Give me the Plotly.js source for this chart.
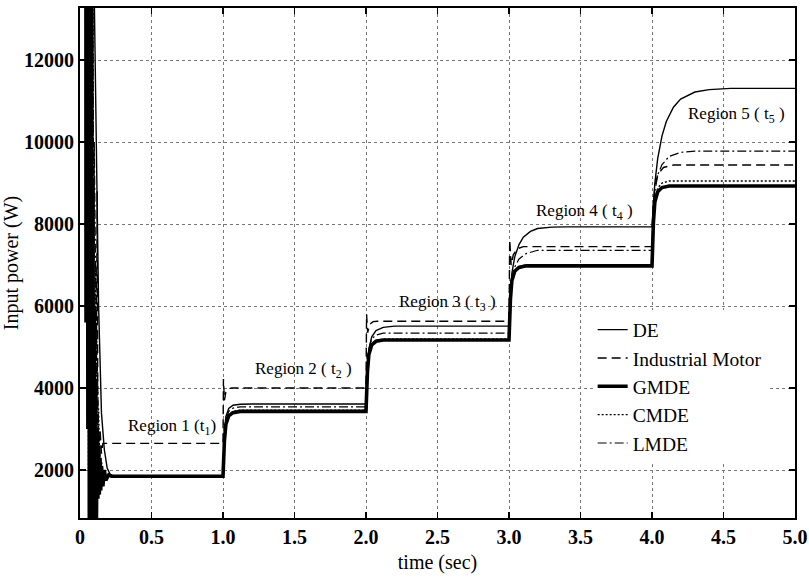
<!DOCTYPE html>
<html>
<head>
<meta charset="utf-8">
<script src="https://cdn.plot.ly/plotly-3.0.1.min.js"></script>
<style>html,body{margin:0;padding:0;background:#fff;}#chart{width:809px;height:580px;}</style>
</head>
<body>
<div id="chart"></div>
<script>
// ---- data (time in s, power in W) ----
const seriesNames = ["DE", "Industrial Motor", "GMDE", "CMDE", "LMDE"];

const tDE = [0, 0.06, 0.09, 0.11, 0.13, 0.15, 0.17, 0.19, 0.21, 0.24, 1.0, 1.01, 1.02, 1.04, 1.07, 1.12, 1.2, 2.0, 2.01, 2.02, 2.04, 2.07, 2.12, 2.2, 3.0, 3.01, 3.02, 3.04, 3.07, 3.1, 3.15, 3.2, 3.3, 3.4, 4.0, 4.01, 4.02, 4.04, 4.07, 4.1, 4.15, 4.2, 4.3, 4.4, 4.55, 5.0];
const pDE = [30000, 30000, 16000, 11000, 6000, 3400, 2500, 2050, 1900, 1840, 1840, 2900, 3300, 3500, 3580, 3605, 3610, 3610, 4500, 4950, 5250, 5400, 5480, 5510, 5510, 6300, 6800, 7200, 7500, 7680, 7820, 7890, 7925, 7930, 7930, 8500, 9000, 9600, 10150, 10500, 10850, 11050, 11220, 11280, 11310, 11310];

const tIM = [0, 0.07, 0.09, 0.1, 0.11, 0.12, 0.125, 0.13, 0.14, 0.15, 0.16, 1.0, 1.003, 1.01, 1.02, 1.04, 1.06, 2.0, 2.004, 2.012, 2.025, 2.05, 2.08, 3.0, 3.005, 3.015, 3.03, 3.06, 3.1, 4.0, 4.01, 4.02, 4.04, 4.08, 4.15, 5.0];
const pIM = [30000, 30000, 12000, 4000, 900, 8800, 3000, 1500, 3000, 2400, 2650, 2650, 4220, 3700, 3900, 3980, 4000, 4000, 5800, 5350, 5550, 5620, 5630, 5630, 7620, 7000, 7250, 7400, 7450, 7450, 8500, 8900, 9200, 9380, 9440, 9440];

const tGM = [0, 0.04, 0.042, 0.045, 0.05, 0.055, 0.06, 0.065, 0.07, 0.075, 0.08, 0.085, 0.09, 0.095, 0.1, 0.105, 0.11, 0.115, 0.12, 0.125, 0.13, 0.135, 0.14, 0.145, 0.15, 0.16, 0.17, 0.18, 0.2, 0.22, 1.0, 1.01, 1.02, 1.04, 1.07, 1.12, 2.0, 2.01, 2.02, 2.04, 2.07, 2.12, 3.0, 3.01, 3.02, 3.04, 3.07, 3.12, 4.0, 4.01, 4.02, 4.04, 4.07, 4.12, 5.0];
const pGM = [30000, 30000, 5600, 30000, 30000, 3000, 30000, 800, 30000, 800, 20000, 900, 9000, 700, 6000, 1000, 4000, 800, 3000, 1300, 2500, 1400, 2300, 1500, 2100, 1600, 2000, 1750, 1880, 1850, 1850, 2720, 3110, 3320, 3400, 3430, 3430, 4390, 4820, 5050, 5140, 5170, 5170, 6170, 6620, 6850, 6940, 6980, 6980, 8050, 8540, 8790, 8890, 8930, 8930];

const tCM = [0, 0.05, 0.06, 0.07, 0.08, 0.09, 0.1, 0.11, 0.12, 0.13, 0.14, 0.15, 0.17, 0.2, 1.0, 1.01, 1.02, 1.04, 1.07, 1.12, 2.0, 2.01, 2.02, 2.04, 2.07, 2.12, 3.0, 3.01, 3.02, 3.04, 3.07, 3.12, 4.0, 4.01, 4.02, 4.04, 4.07, 4.12, 5.0];
const pCM = [30000, 30000, 2000, 30000, 1200, 14000, 1500, 7000, 2000, 3500, 1600, 2200, 1800, 1850, 1850, 2740, 3130, 3350, 3430, 3460, 3460, 4420, 4850, 5070, 5160, 5190, 5190, 6190, 6640, 6870, 6960, 7010, 7010, 8100, 8600, 8880, 9000, 9050, 9050];

const tLM = [0, 0.06, 0.07, 0.08, 0.09, 0.1, 0.11, 0.12, 0.13, 0.14, 0.15, 0.16, 0.18, 0.21, 1.0, 1.01, 1.02, 1.04, 1.07, 1.12, 2.0, 2.01, 2.02, 2.04, 2.07, 2.12, 3.0, 3.01, 3.02, 3.04, 3.07, 3.12, 3.2, 4.0, 4.01, 4.02, 4.04, 4.07, 4.12, 4.2, 4.3, 5.0];
const pLM = [30000, 30000, 3000, 25000, 2500, 10000, 6500, 4200, 3000, 2400, 2000, 1950, 1870, 1860, 1860, 2800, 3200, 3430, 3510, 3540, 3540, 4500, 4950, 5200, 5290, 5340, 5340, 6300, 6700, 6950, 7150, 7280, 7360, 7360, 8300, 8800, 9200, 9450, 9650, 9750, 9780, 9780];

const xTickVals = [0, 0.5, 1, 1.5, 2, 2.5, 3, 3.5, 4, 4.5, 5];
const xTickText = ["0", "0.5", "1.0", "1.5", "2.0", "2.5", "3.0", "3.5", "4.0", "4.5", "5.0"];
const yTickVals = [2000, 4000, 6000, 8000, 10000, 12000];
const yTickText = ["2000", "4000", "6000", "8000", "10000", "12000"];

const regionLabels = ["Region 1 (t<sub>1</sub>)", "Region 2 ( t<sub>2</sub> )", "Region 3 ( t<sub>3</sub> )", "Region 4 ( t<sub>4</sub> )", "Region 5 ( t<sub>5</sub> )"];
const regionLabelX = [0.64, 1.56, 2.57, 3.53, 4.59];
const regionLabelY = [3050, 4440, 6070, 8290, 10660];

// ---- chart ----
const serif = "Liberation Serif, Times New Roman, serif";
const styles = [
  {width: 1.4, dash: "solid"},
  {width: 1.4, dash: "9px,5px"},
  {width: 3.6, dash: "solid"},
  {width: 1.4, dash: "2px,2px"},
  {width: 1.2, dash: "9px,3px,2px,3px"}
];
const xs = [tDE, tIM, tGM, tCM, tLM];
const ys = [pDE, pIM, pGM, pCM, pLM];
const traces = seriesNames.map((n, i) => ({
  type: "scatter", mode: "lines", name: n, x: xs[i], y: ys[i],
  line: {color: "#000", width: styles[i].width, dash: styles[i].dash}
}));

const annotations = regionLabels.map((txt, i) => ({
  x: regionLabelX[i], y: regionLabelY[i], xref: "x", yref: "y", text: txt,
  showarrow: false, font: {family: serif, size: 17, color: "#000"}
}));

const axisCommon = {
  showline: true, linecolor: "#000", linewidth: 2, mirror: "ticks",
  ticks: "inside", ticklen: 6, tickcolor: "#000", tickwidth: 1.5,
  showgrid: true, gridcolor: "#777", griddash: "dot", gridwidth: 1,
  zeroline: false,
  tickfont: {family: serif, size: 20, color: "#000", weight: "bold"}
};

const layout = {
  width: 809, height: 580,
  margin: {l: 80, r: 14, t: 8, b: 62},
  paper_bgcolor: "#fff", plot_bgcolor: "#fff",
  showlegend: true,
  legend: {x: 0.717, y: 0.407, xanchor: "left", yanchor: "top", bgcolor: "#fff",
           borderwidth: 0, font: {family: serif, size: 19.5, color: "#000"},
           traceorder: "normal"},
  xaxis: Object.assign({}, axisCommon, {
    range: [0, 5], tickvals: xTickVals, ticktext: xTickText,
    title: {text: "time (sec)", font: {family: serif, size: 20, color: "#000"}, standoff: 8}
  }),
  yaxis: Object.assign({}, axisCommon, {
    range: [830, 13270], tickvals: yTickVals, ticktext: yTickText,
    title: {text: "Input power (W)", font: {family: serif, size: 20, color: "#000"}, standoff: 3}
  }),
  annotations: annotations
};

Plotly.newPlot("chart", traces, layout, {displayModeBar: false, staticPlot: true});
</script>
</body>
</html>
